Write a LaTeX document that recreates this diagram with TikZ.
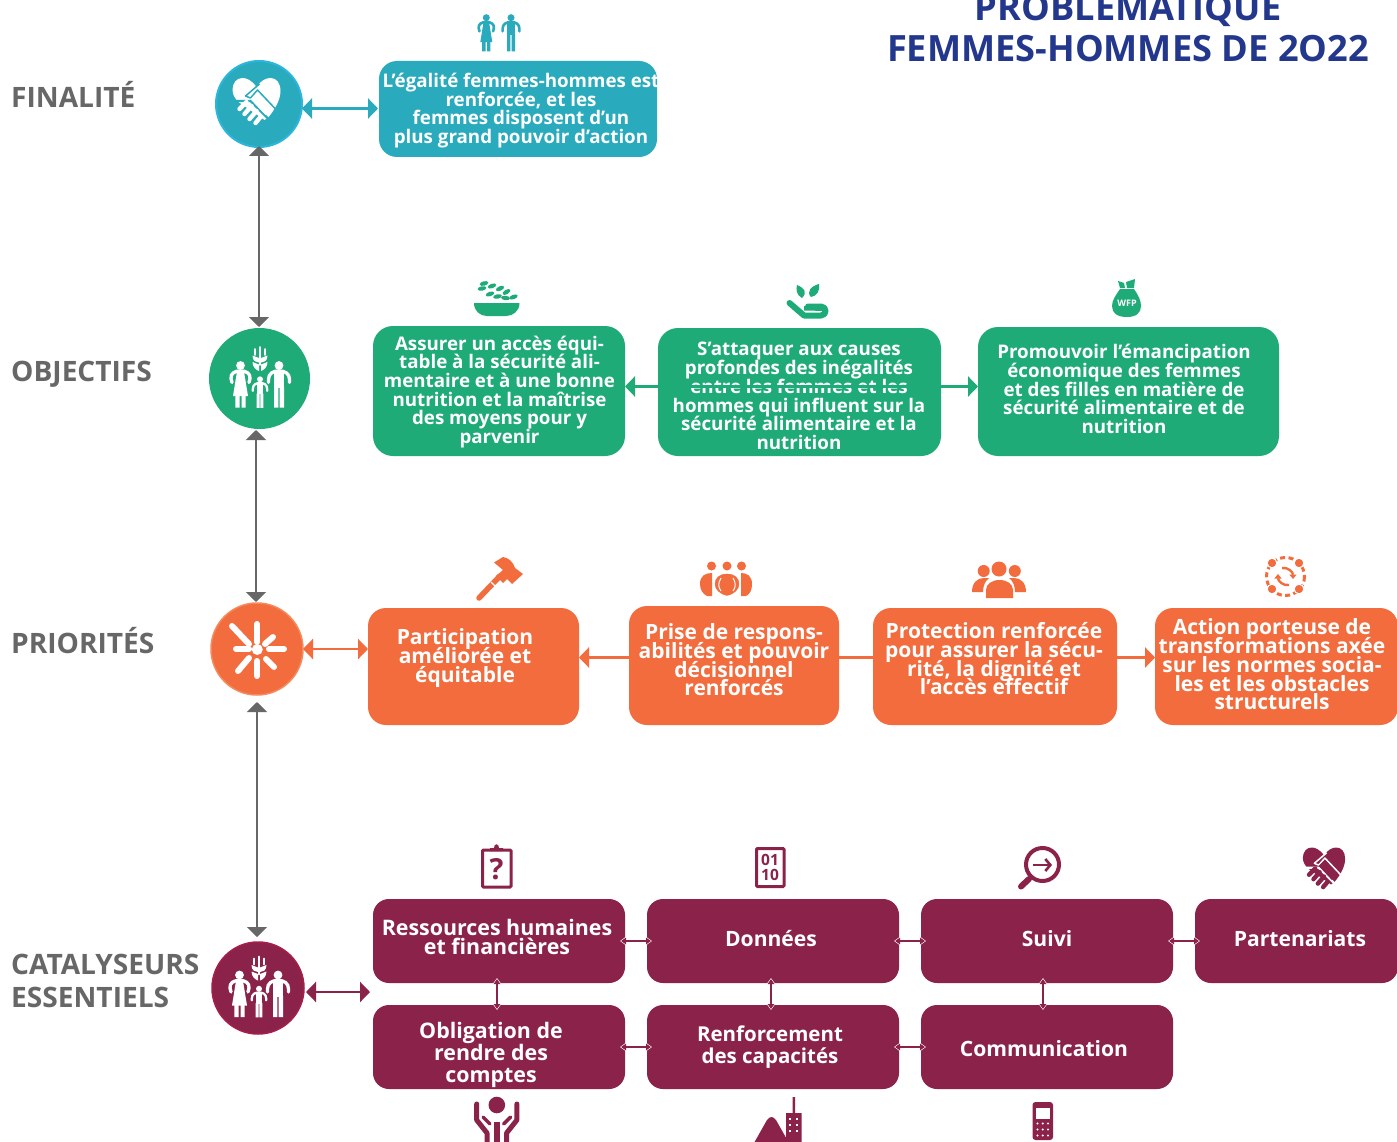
\documentclass[tikz,border=0pt]{standalone}
\usepackage{fontspec}
\setmainfont{Open Sans}
\usetikzlibrary{arrows.meta,calc}
\AtBeginDocument{\lineskiplimit=-100pt}
\definecolor{teal1}{HTML}{29ABBD}
\definecolor{teal2}{HTML}{2DB6DC}
\definecolor{green1}{HTML}{1EAB78}
\definecolor{orange1}{HTML}{F36C3D}
\definecolor{orange2}{HTML}{F58A5E}
\definecolor{maroon1}{HTML}{8B2249}
\definecolor{maroon2}{HTML}{A81E48}
\definecolor{grey1}{HTML}{666766}
\definecolor{title1}{HTML}{23388C}
\tikzset{
  x=1pt,y=-1pt,
  boxn/.style={rounded corners=#1,inner sep=0pt,outer sep=0pt},
  circn/.style={circle,inner sep=0pt,outer sep=0pt},
  boxtext/.style={text=white,align=center,inner sep=0pt,font=\bfseries\fontsize{18.75}{18.7}\selectfont},
  prtext/.style={text=white,align=center,inner sep=0pt,font=\bfseries\fontsize{21}{18.7}\selectfont},
  catext/.style={text=white,align=center,inner sep=0pt,font=\bfseries\fontsize{21.4}{19}\selectfont},
  catone/.style={text=white,align=center,inner sep=0pt,font=\bfseries\fontsize{21.1}{19}\selectfont},
  catwide/.style={text=white,align=center,inner sep=0pt,font=\bfseries\fontsize{21.4}{22}\selectfont},
  catcap/.style={text=white,align=center,inner sep=0pt,font=\bfseries\fontsize{20.5}{22}\selectfont},
  lab/.style={text=grey1,anchor=base west,inner sep=0pt,font=\bfseries\fontsize{28.1}{33}\selectfont},
  gridarrow/.style={grey1,line width=2pt,{Triangle[length=10pt,width=20pt]}-{Triangle[length=10pt,width=20pt]}},
  dbl/.style={#1,line width=2.5pt,{Triangle[length=10pt,width=20pt]}-{Triangle[length=10pt,width=20pt]}},
  sgl/.style={#1,line width=2.5pt,-{Triangle[length=10pt,width=20pt]}},
  smallw/.style={white,line width=4.4pt,{Triangle[length=7pt,width=9.5pt]}-{Triangle[length=7pt,width=9.5pt]}},
  smallm/.style={maroon1,line width=2.6pt,{Triangle[length=5pt,width=6.5pt]}-{Triangle[length=5pt,width=6.5pt]}},
}
% box with corners given by its edges
\newcommand{\bx}[7]{%
  \pgfmathsetmacro{\bw}{#4-#2}\pgfmathsetmacro{\bh}{#5-#3}%
  \pgfmathsetmacro{\bcx}{(#4+#2)/2}\pgfmathsetmacro{\bcy}{(#5+#3)/2}%
  \node[boxn=#7,fill=#6,minimum width=\bw pt,minimum height=\bh pt] (#1) at (\bcx,\bcy) {};}
% figures, origin at head centre
\newcommand{\wom}[4]{\begin{scope}[shift={(#1,#2)},scale=#3]
  \fill[#4] (0,0) circle (4.4);
  \draw[#4,line width=#3*3.3pt,line cap=round] (-8.5,17) -- (-9.5,13) .. controls (-10,8) and (-6,5.4) .. (0,5.4) .. controls (6,5.4) and (10,8) .. (9.5,13) -- (8.5,17);
  \fill[#4] (-3.5,6) -- (3.5,6) -- (7.5,30.5) -- (-7.5,30.5) -- cycle;
  \fill[#4] (-5.2,29) rectangle (-1,42) (1,29) rectangle (5.2,42);
\end{scope}}
\newcommand{\mann}[4]{\begin{scope}[shift={(#1,#2)},scale=#3]
  \fill[#4] (0,0) circle (4.4);
  \draw[#4,line width=#3*3.3pt,line cap=round] (-10.5,17) -- (-10.5,14) .. controls (-10.5,8) and (-6,5.4) .. (0,5.4) .. controls (6,5.4) and (10.5,8) .. (10.5,14) -- (10.5,17);
  \fill[#4] (-5,6) rectangle (5,22);
  \fill[#4] (-5,21) rectangle (-.7,42) (.7,21) rectangle (5,42);
\end{scope}}
\newcommand{\family}[3]{\begin{scope}[shift={(#1,#2)}]
  \wom{-18.5}{-13.5}{1}{#3}
  \mann{20}{-13.5}{1}{#3}
  \mann{1}{.3}{.68}{#3}
  \draw[#3,line width=1.8pt,line cap=round] (1,-32) -- (1,-14) (-4,-30) -- (-4,-24) (6,-30) -- (6,-24);
  \fill[#3] (0,-21) -- (-6.5,-23.5) .. controls (-6.5,-18) and (-3,-16.5) .. (0,-16.5) -- cycle;
  \fill[#3] (2,-21) -- (8.5,-23.5) .. controls (8.5,-18) and (5,-16.5) .. (2,-16.5) -- cycle;
  \fill[#3] (0,-14.5) -- (-6.5,-17) .. controls (-6.5,-12) and (-3,-9) .. (0,-8) -- cycle;
  \fill[#3] (2,-14.5) -- (8.5,-17) .. controls (8.5,-12) and (5,-9) .. (2,-8) -- cycle;
\end{scope}}
% handshake heart: #4 heart colour, #5 detail colour
\newcommand{\hheart}[5]{\begin{scope}[shift={(#1,#2)},scale=#3]
  \fill[#4] (0,-16) .. controls (-5,-23) and (-10,-25) .. (-14,-25) .. controls (-20,-25) and (-24,-20) .. (-24,-13)
    .. controls (-24,-8) and (-21,-4) .. (-18,-1) -- (8,17) -- (12,14)
    .. controls (18,7) and (24,-3) .. (24,-12) .. controls (24,-20) and (20,-25) .. (14,-25) .. controls (9,-25) and (4,-22) .. (0,-16) -- cycle;
  \draw[#5,line width=1.5pt,line join=round] (3,-19) -- (-11,-7) -- (-6,-5) -- (1,-13) -- (19,6);
  \draw[#5,line width=2.2pt] (-22,-2) -- (-6,-2) -- (13,17);
  \fill[#4] (-6,-4) -- (1,-11) -- (15,5) -- (9,12) -- cycle;
  \draw[#4,line width=4.4pt,line cap=round] (-17,6) -- (-10,-1) (-12,11) -- (-5,3) (-7,16) -- (0,8) (-1,20) -- (4,14);
\end{scope}}
\begin{document}
\begin{tikzpicture}
\useasboundingbox (0,0) rectangle (1397,1142);
\clip (0,0) rectangle (1397,1142);
\fill[white] (0,0) rectangle (1397,1142);

% title and row labels
\node[text=title1,align=center,inner sep=0pt,font=\bfseries\fontsize{36.2}{41}\selectfont] (title) at (1128,24) {PROBLÉMATIQUE\\FEMMES-HOMMES DE 2O22};
\node[lab] (lfin) at (11,108) {FINALITÉ};
\node[lab] (lobj) at (11,381) {OBJECTIFS};
\node[lab] (lpri) at (11,653) {PRIORITÉS};
\node[lab] (lca) at (11,974) {CATALYSEURS};
\node[lab] (lcb) at (11,1007) {ESSENTIELS};

% circles
\node[circn,fill=teal1,draw=teal2,line width=2pt,minimum size=86pt] (c1) at (259,104) {};
\node[circn,fill=green1,minimum size=101pt] (c2) at (259.5,378.5) {};
\node[circn,fill=orange1,draw=orange2,line width=1.5pt,minimum size=92pt] (c3) at (257,649) {};
\node[circn,fill=maroon1,draw=maroon2,line width=1.5pt,minimum size=92pt] (c4) at (258,988) {};

% boxes
\bx{f1}{379}{61}{657}{157}{teal1}{18pt}
\bx{o1}{373}{326}{625}{456}{green1}{20pt}
\bx{o2}{658}{328}{941}{456}{green1}{20pt}
\bx{o3}{978}{327}{1279}{456}{green1}{20pt}
\bx{p1}{368}{608}{579}{725}{orange1}{18pt}
\bx{p2}{629}{606}{839}{725}{orange1}{18pt}
\bx{p3}{873}{608}{1117}{725}{orange1}{18pt}
\bx{p4}{1155}{608}{1398}{725}{orange1}{18pt}
\bx{k1}{373}{899}{625}{983}{maroon1}{16pt}
\bx{k2}{647}{899}{899}{983}{maroon1}{16pt}
\bx{k3}{921}{899}{1173}{983}{maroon1}{16pt}
\bx{k4}{1195}{899}{1398}{983}{maroon1}{16pt}
\bx{k5}{373}{1005}{625}{1089}{maroon1}{16pt}
\bx{k6}{647}{1005}{899}{1089}{maroon1}{16pt}
\bx{k7}{921}{1005}{1173}{1089}{maroon1}{16pt}

% orange chain runs behind the box texts
\coordinate (pmid) at ($(p2.center)+(0,-8)$);
\draw[sgl=orange1] (pmid) -- (pmid -| p1.east);
\draw[sgl=orange1] (pmid) -- (pmid -| p4.west);

% box texts
\begin{scope}
\clip (379,61) rectangle (657,157);
\node[boxtext] (tf1) at (521,110.5) {L’égalité femmes-hommes est\\renforcée, et les\\femmes disposent d’un\\plus grand pouvoir d’action};
\end{scope}
\node[boxtext] (to1) at (499.5,392) {Assurer un accès équi-\\table à la sécurité ali-\\mentaire et à une bonne\\nutrition et la maîtrise\\des moyens pour y\\parvenir};
\node[boxtext] (to2) at (799,396) {S’attaquer aux causes\\profondes des inégalités\\entre les femmes et les\\hommes qui influent sur la\\sécurité alimentaire et la\\nutrition};
\node[boxtext] (to3) at (1124,389) {Promouvoir l’émancipation\\économique des femmes\\et des filles en matière de\\sécurité alimentaire et de\\nutrition};
\node[prtext] (tp1) at (465,658) {Participation\\améliorée et\\équitable};
\node[prtext] (tp2) at (734,660) {Prise de respons-\\abilités et pouvoir\\décisionnel\\renforcés};
\node[prtext] (tp3) at (994,659) {Protection renforcée\\pour assurer la sécu-\\rité, la dignité et\\l’accès effectif};
\node[prtext] (tp4) at (1272,664.5) {Action porteuse de\\transformations axée\\sur les normes socia-\\les et les obstacles\\structurels};
\node[catext] (tk1) at (497,937) {Ressources humaines\\et financières};
\node[catone] (tk2) at (771,939) {Données};
\node[catone] (tk3) at (1047,939) {Suivi};
\node[catone] (tk4) at (1300,939) {Partenariats};
\node[catwide] (tk5) at (491,1055) {Obligation de\\rendre des\\comptes};
\node[catcap] (tk6) at (770,1047) {Renforcement\\des capacités};
\node[catone] (tk7) at (1044,1049) {Communication};

% connectors
\draw[gridarrow] ([yshift=1pt]c1.south) -- ([yshift=1pt]c1.south |- c2.north);
\draw[gridarrow] ([xshift=-3.5pt,yshift=-1pt]c2.south) -- ([xshift=-3.5pt,yshift=1pt]c2.south |- c3.north);
\draw[gridarrow] ([yshift=-7pt]c3.south) -- ([yshift=5pt]c3.south |- c4.north);
\coordinate (fa) at ([yshift=-4.5pt]c1.east);
\draw[dbl=teal1] (fa) -- ([xshift=-1pt]fa -| f1.west);
\draw[dbl=orange1] (c3.east) -- (c3.east -| p1.west);
\coordinate (ka) at ([xshift=2pt,yshift=-4pt]c4.east);
\draw[dbl=maroon1] (ka) -- ([xshift=-3pt]ka -| k5.west);
\coordinate (omid) at ($(o2.center)+(0,-5.5)$);
\draw[sgl=green1] (omid) -- (omid -| o1.east);
\draw[sgl=green1] (omid) -- (omid -| o3.west);
\foreach \a/\b in {k1/k2,k2/k3,k3/k4,k5/k6,k6/k7}{
  \draw[smallw] ([xshift=-5pt]\a.east) -- ([xshift=5pt]\b.west);
  \draw[smallm] ([xshift=-4pt]\a.east) -- ([xshift=4pt]\b.west);
}
\foreach \a/\b/\s in {k1/k5/-2,k2/k6/-2,k3/k7/-4}{
  \draw[smallw] ([xshift=\s pt,yshift=5pt]\a.south) -- ([xshift=\s pt,yshift=-5pt]\b.north);
  \draw[smallm] ([xshift=\s pt,yshift=4pt]\a.south) -- ([xshift=\s pt,yshift=-4pt]\b.north);
}

% icons in the circles
\hheart{256.5}{103}{1}{white}{teal1}
\family{259}{379}{white}
\foreach \xa/\ya/\xb/\yb in {257/624/257/642,257/661/257/676,236/649/249/649,269/649/284/649,232/626/249/644,273/637/265/644,238/671/249/658,266/659/274/667}
  \draw[white,line width=6pt,line cap=round] (\xa,\ya) -- (\xb,\yb);
\fill[white] (257.3,649.5) circle (5.5);
\family{258}{988.5}{white}

% icons over the boxes
\wom{486.3}{17.7}{.8}{teal1}
\mann{511}{17.7}{.8}{teal1}
% bowl
\fill[green1] (474,303) -- (519.5,303) .. controls (519.5,311) and (513,316) .. (506,316) -- (487,316) .. controls (480,316) and (474,311) .. (474,303) -- cycle;
\foreach \x/\y/\r in {484/283.5/15,492/286/20,500/288.5/25,506.5/292/30,482/288.5/12,490/294/18,497.5/296.5/12,505.5/298/-5,513.5/297/20}
  \fill[green1,rotate around={\r:(\x,\y)}] (\x,\y) ellipse (4.4 and 2.2);
% hand and leaves
\fill[green1] (802,298) .. controls (796,295) and (796,289) .. (797,285) .. controls (804,288) and (808,292) .. (802,298) -- cycle;
\fill[green1] (811,297) .. controls (806,292) and (811,286) .. (819,284) .. controls (820,291) and (817,296) .. (811,297) -- cycle;
\draw[green1,line width=6pt,line join=round,line cap=round] (789.5,303) -- (804,315.5) -- (821,315.5) .. controls (827,315.5) and (827,306.5) .. (821,306.5) -- (808,306.5);
\fill[green1] (804,306) rectangle (822,311);
\fill[white] (804,310.5) -- (815,310.5) -- (815,311.8) -- (805,311.8) -- cycle;
% sack
\fill[green1] (1118,281) -- (1124,283) -- (1125,288) -- (1120,288) -- cycle;
\fill[green1] (1126,282) -- (1135,279) -- (1134,288) -- (1127,288) -- cycle;
\fill[green1] (1120,289) -- (1134,289) .. controls (1138,295) and (1141,300) .. (1141,306) .. controls (1141,313) and (1136,317) .. (1127,317) .. controls (1117,317) and (1112,313) .. (1112,306) .. controls (1112,300) and (1116,295) .. (1120,289) -- cycle;
\node[text=white,inner sep=0pt,font=\bfseries\fontsize{9}{9}\selectfont] (wfp) at (1127,303.5) {WFP};
% hammer
\draw[orange1,line width=5.5pt,line cap=round] (479,598) -- (500,576);
\fill[orange1] (494,562.5) -- (503,557) .. controls (509,558) and (513,562) .. (515,568) -- (523,574) -- (512,584) -- (507,579) -- (503,583) -- (496,576) -- (503,570) -- cycle;
\draw[white,line width=1.2pt] (491,582) -- (497,588);
% three people
\foreach \x in {711.5,727,741.5}{\fill[orange1] (\x,566) circle (4.5);}
\fill[orange1] (700,584) .. controls (700,576) and (705,573) .. (712,573) -- (712,596) -- (707,596) .. controls (703,594) and (700,590) .. (700,584) -- cycle;
\fill[orange1] (752,584) .. controls (752,576) and (747,573) .. (741,573) -- (741,596) -- (746,596) .. controls (750,594) and (752,590) .. (752,584) -- cycle;
\fill[orange1,draw=white,line width=1.4pt] (727,596.5) .. controls (719,595) and (714,590) .. (714,584) .. controls (714,577) and (719,573) .. (727,573) .. controls (735,573) and (740,577) .. (740,584) .. controls (740,590) and (735,595) .. (727,596.5) -- cycle;
\draw[white,line width=1pt] (721,578) .. controls (718,583) and (718,587) .. (721,591) (733,578) .. controls (736,583) and (736,587) .. (733,591);
% group
\fill[orange1] (999,569) circle (7.5) (983.7,571) circle (6) (1014.8,571) circle (6);
\fill[orange1] (972,592) .. controls (972,583) and (977,578) .. (984,578) -- (989,578) .. controls (985,581) and (983,586) .. (983,592) -- cycle;
\fill[orange1] (1026,592) .. controls (1026,583) and (1021,578) .. (1014,578) -- (1009,578) .. controls (1013,581) and (1015,586) .. (1015,592) -- cycle;
\fill[orange1] (986,598) -- (986,590) .. controls (986,584) and (992,580) .. (999.5,580) .. controls (1007,580) and (1013,584) .. (1013,590) -- (1013,598) -- cycle;
% change cycle
\draw[orange1,line width=3pt,dash pattern=on 5pt off 3.4pt] (1285.5,576.5) circle (19);
\foreach \x/\y in {1272/563,1299/563,1272/589,1299/589}{\fill[orange1,draw=white,line width=1pt] (\x,\y) circle (4.8);}
\draw[orange1,line width=2.4pt,-{Triangle[length=4.5pt,width=7pt]}] (1282,568) .. controls (1288,567) and (1293,572) .. (1293,579);
\draw[orange1,line width=2.4pt,-{Triangle[length=4.5pt,width=7pt]}] (1289,585) .. controls (1283,586) and (1278,581) .. (1278,574);
% clipboard
\draw[maroon1,line width=3pt,rounded corners=1pt] (482.5,850) rectangle (511,887);
\fill[maroon1] (490,851) -- (490,848) -- (494,848) .. controls (494,843) and (499,843) .. (499,848) -- (503,848) -- (503,851) -- cycle;
\node[text=maroon1,inner sep=0pt,font=\bfseries\fontsize{29}{29}\selectfont] (qm) at (496.5,869) {?};
% binary
\draw[maroon1,line width=3pt,rounded corners=1pt] (756.5,848.5) rectangle (784,886.5);
\node[text=maroon1,inner sep=0pt,align=center,font=\bfseries\fontsize{15.5}{15}\selectfont] (bin) at (770,867.5) {01\\10};
% magnifier
\draw[maroon1,line width=4pt] (1042.5,864.5) circle (16.5);
\draw[maroon1,line width=2.6pt,-{Straight Barb[length=5pt,width=12pt]}] (1033,865) -- (1052,865);
\draw[maroon1,line width=6pt,line cap=round] (1021,886.5) -- (1029,879);
% partnership heart
\hheart{1324}{869.5}{.88}{maroon1}{white}
% raised arms
\fill[maroon1] (496.8,1105) circle (8.3);
\draw[maroon1,line width=5pt,line cap=round,line join=round] (476.7,1104) -- (476.7,1120) -- (487,1133) -- (487,1145);
\draw[maroon1,line width=5pt,line cap=round,line join=round] (516.9,1104) -- (516.9,1120) -- (506.6,1133) -- (506.6,1145);
\draw[maroon1,line width=3.5pt,line cap=round] (483,1117) -- (490,1124) (510.6,1117) -- (503.6,1124);
\fill[maroon1] (494,1122) rectangle (499.6,1143);
% mountain and building
\fill[maroon1] (754,1143) -- (767,1120) .. controls (770,1116) and (773,1116) .. (776,1120) -- (789,1143) -- cycle;
\fill[maroon1] (786,1113) -- (792.5,1113) -- (792.5,1097) -- (795,1097) -- (795,1113) -- (801.5,1113) -- (801.5,1143) -- (786,1143) -- cycle;
\foreach \y in {1119,1125,1131}{\foreach \x in {790,797}{\fill[white] (\x-1.2,\y-1.2) rectangle (\x+1.2,\y+1.2);}}
% phone
\fill[maroon1,rounded corners=3pt] (1032.5,1102) rectangle (1053,1140);
\fill[white] (1035.5,1108) rectangle (1050,1119);
\foreach \y in {1123.5,1129.5,1135.5}{\foreach \x in {1037.5,1042.7,1048}{\fill[white] (\x,\y) circle (1.2);}}
\end{tikzpicture}
\end{document}
